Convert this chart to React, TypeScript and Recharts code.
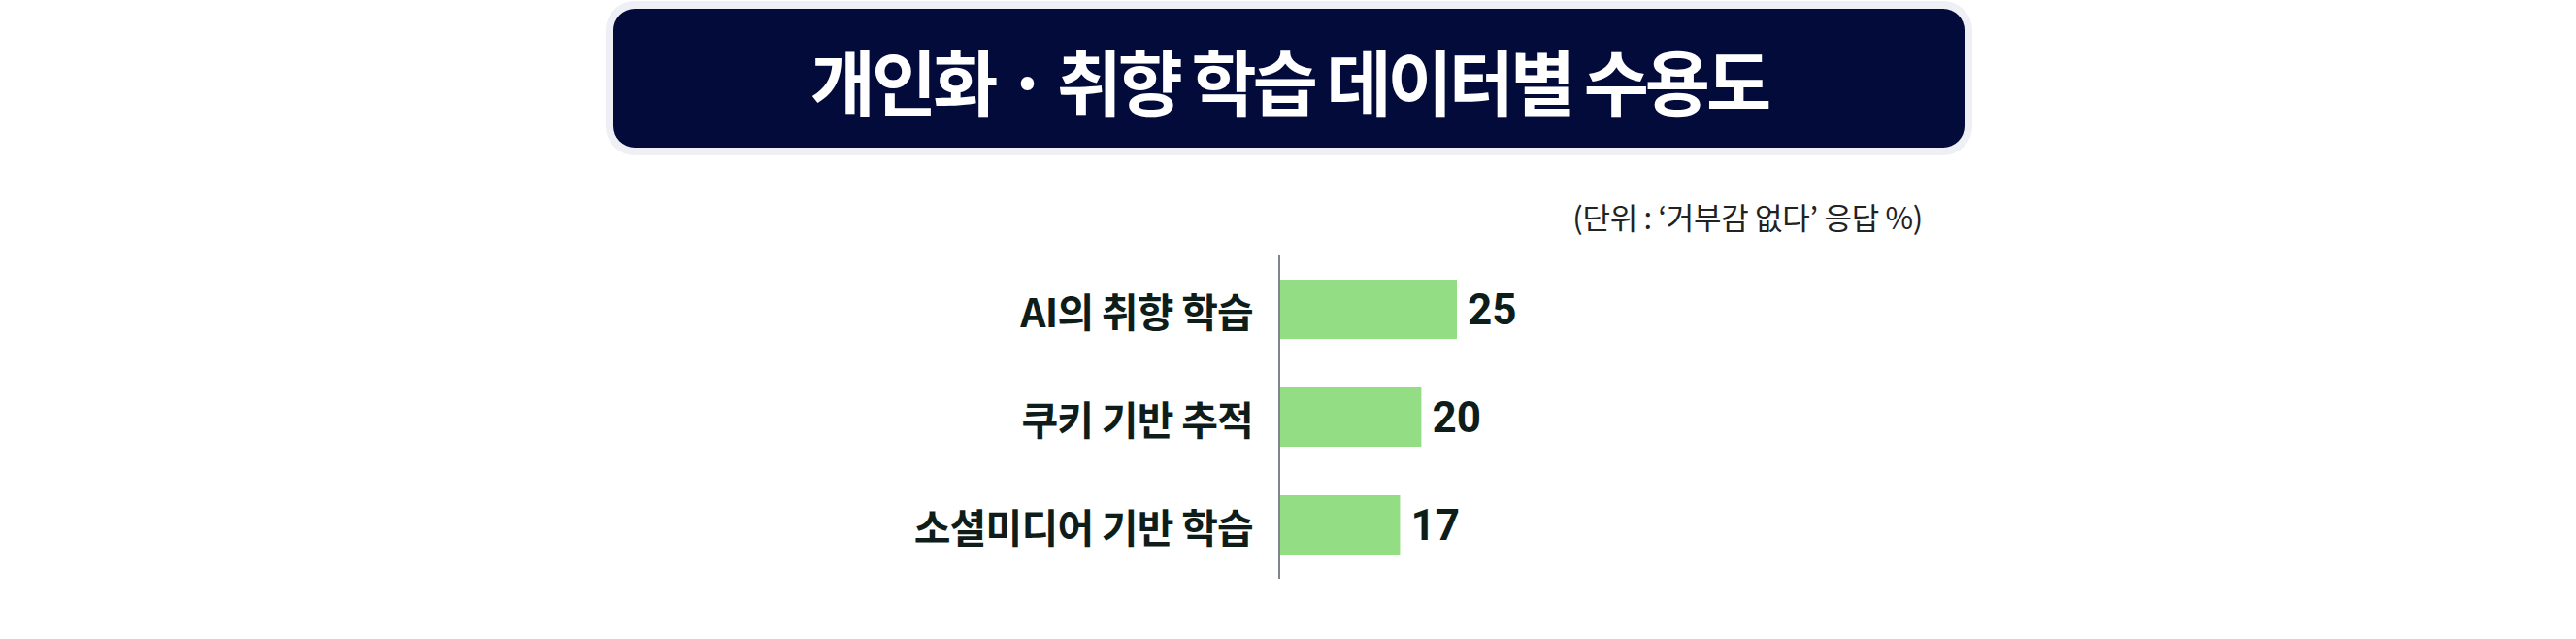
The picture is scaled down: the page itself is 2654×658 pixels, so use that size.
import React from 'react';
import { BarChart, Bar, XAxis, YAxis, LabelList } from 'recharts';

const categories = ['AI의 취향 학습', '쿠키 기반 추적', '소셜미디어 기반 학습'];
const values = [25, 20, 17];

const TITLE = '개인화 · 취향 학습 데이터별 수용도';
const UNIT_NOTE = '(단위 : ‘거부감 없다’ 응답 %)';

const data = categories.map((name, i) => ({ name, value: values[i] }));

const KR_FONT = '"Noto Sans CJK KR", "Noto Sans", sans-serif';

function CategoryTick({ x, y, payload }: any) {
  return (
    <text
      x={x - 19}
      y={y}
      textAnchor="end"
      dominantBaseline="central"
      fontFamily={KR_FONT}
      fontWeight={700}
      fontSize={41}
      letterSpacing={-0.8}
      fill="#0e1d1a"
    >
      {payload.value}
    </text>
  );
}

export default function App() {
  return (
    <div
      style={{
        position: 'absolute',
        left: 0,
        top: 0,
        width: 2654,
        height: 658,
        background: '#ffffff',
        overflow: 'hidden',
      }}
    >
      {/* title banner */}
      <div
        style={{
          position: 'absolute',
          left: 632,
          top: 9,
          width: 1392,
          height: 143,
          background: '#020b3a',
          borderRadius: 22,
          boxShadow: '0 0 0 8px #eef0f5',
          display: 'flex',
          alignItems: 'center',
          justifyContent: 'center',
          color: '#ffffff',
          fontFamily: KR_FONT,
          fontWeight: 700,
          fontSize: 73,
          letterSpacing: -4,
          whiteSpace: 'nowrap',
        }}
      >
        {TITLE}
      </div>

      {/* unit note */}
      <div
        style={{
          position: 'absolute',
          right: 2654 - 1981,
          top: 200,
          fontFamily: KR_FONT,
          fontSize: 31,
          letterSpacing: -0.3,
          color: '#222222',
          whiteSpace: 'nowrap',
        }}
      >
        {UNIT_NOTE}
      </div>

      <div style={{ position: 'absolute', left: 0, top: 0 }}>
        <BarChart
          width={2654}
          height={658}
          data={data}
          layout="vertical"
          margin={{ top: 263, right: 604, bottom: 62, left: 0 }}
          barCategoryGap={0}
        >
          <XAxis type="number" domain={[0, 100]} hide />
          <YAxis
            type="category"
            dataKey="name"
            width={1318}
            axisLine={{ stroke: '#80848e', strokeWidth: 2 }}
            tickLine={false}
            tick={<CategoryTick />}
          />
          <Bar dataKey="value" fill="#93de85" barSize={61} isAnimationActive={false}>
            <LabelList
              dataKey="value"
              position="right"
              offset={11}
              fill="#0e1d1a"
              fontFamily="Roboto, sans-serif"
              fontWeight={700}
              fontSize={44}
            />
          </Bar>
        </BarChart>
      </div>
    </div>
  );
}
